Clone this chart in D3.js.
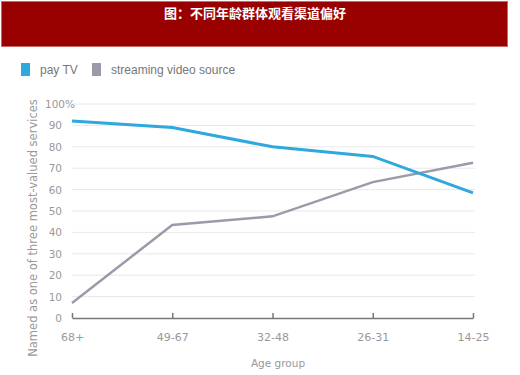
<!DOCTYPE html>
<html>
<head>
<meta charset="UTF-8">
<style>
    body { margin: 0; background: #fff; }
    svg { display: block; font-family: "DejaVu Sans", sans-serif; }
</style>
</head>
<body>
<svg></svg>
<script src="https://d3js.org/d3.v7.min.js"></script>
<script>
    // data
    let ageGroups = ["68+", "49-67", "32-48", "26-31", "14-25"];
    let payTV = [92, 89, 80, 75.5, 58.5];
    let streaming = [7, 43.5, 47.5, 63.5, 72.5];
    let yTicks = [0, 10, 20, 30, 40, 50, 60, 70, 80, 90, 100];
    let seriesNames = ["pay TV", "streaming video source"];
    let seriesColors = ["#2ea8dd", "#9c9aa9"];

    let width = 520, height = 375;
    let svg = d3.select("svg").attr("width", width).attr("height", height);

    // title banner
    svg.append("rect")
        .attr("x", 1.5).attr("y", 1.5)
        .attr("width", 506).attr("height", 45)
        .attr("fill", "#990000")
        .attr("stroke", "#c96a6a");
    svg.append("text")
        .attr("x", 255).attr("y", 18)
        .attr("text-anchor", "middle")
        .attr("fill", "#fff")
        .attr("font-size", 13)
        .attr("font-weight", "bold")
        .attr("font-family", "'Noto Sans CJK SC', sans-serif")
        .text("图：不同年龄群体观看渠道偏好");

    let x = d3.scalePoint().domain(ageGroups).range([72, 473]);
    let y = d3.scaleLinear().domain([0, 100]).range([318, 104]);

    // legend
    let legend = svg.append("g");
    let lx = [21, 92];
    seriesNames.forEach((name, i) => {
        legend.append("rect")
            .attr("x", lx[i]).attr("y", 63)
            .attr("width", 9).attr("height", 13)
            .attr("fill", seriesColors[i]);
        legend.append("text")
            .attr("x", lx[i] + 19).attr("y", 74)
            .attr("font-size", 12)
            .attr("font-family", "'Liberation Sans', Arial, sans-serif")
            .attr("fill", "#777")
            .text(name);
    });

    // gridlines
    svg.append("g")
        .selectAll("line")
        .data(yTicks.filter(d => d > 0))
        .join("line")
        .attr("x1", 72).attr("x2", 475)
        .attr("y1", d => y(d)).attr("y2", d => y(d))
        .attr("stroke", "#e8e8e8");

    // y tick labels
    svg.append("g")
        .selectAll("text")
        .data(yTicks)
        .join("text")
        .attr("x", d => d == 100 ? 45 : 62)
        .attr("y", d => y(d) + 4)
        .attr("text-anchor", d => d == 100 ? "start" : "end")
        .attr("font-size", 10.5)
        .attr("fill", "#999")
        .text(d => d == 100 ? "100%" : d);

    // x axis
    let xAxis = svg.append("g")
        .attr("transform", "translate(0," + y(0) + ")")
        .call(d3.axisBottom(x).tickSize(5).tickSizeOuter(0).tickPadding(10));
    xAxis.select(".domain").attr("stroke", "#777").attr("stroke-width", 1.5);
    xAxis.selectAll(".tick line").attr("stroke", "#777").attr("stroke-width", 1.5)
        .attr("y1", -5).attr("y2", 0);
    xAxis.selectAll(".tick text")
        .attr("font-size", 11)
        .attr("fill", "#999")
        .attr("font-family", "'DejaVu Sans', sans-serif");

    // axis titles
    svg.append("text")
        .attr("x", 278).attr("y", 367)
        .attr("text-anchor", "middle")
        .attr("font-size", 10.5)
        .attr("fill", "#999")
        .text("Age group");
    svg.append("text")
        .attr("transform", "translate(37,228) rotate(-90)")
        .attr("text-anchor", "middle")
        .attr("font-size", 11.5)
        .attr("fill", "#999")
        .text("Named as one of three most-valued services");

    // lines
    let line = d3.line()
        .x((d, i) => x(ageGroups[i]))
        .y(d => y(d));

    svg.append("path")
        .datum(streaming)
        .attr("d", line)
        .attr("fill", "none")
        .attr("stroke", seriesColors[1])
        .attr("stroke-width", 2.5);

    svg.append("path")
        .datum(payTV)
        .attr("d", line)
        .attr("fill", "none")
        .attr("stroke", seriesColors[0])
        .attr("stroke-width", 3);
</script>
</body>
</html>
